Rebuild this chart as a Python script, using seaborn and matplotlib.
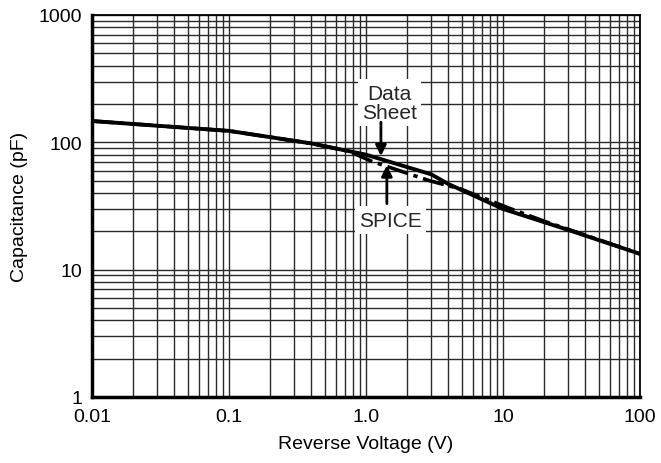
import numpy as np
import pandas as pd
import matplotlib
matplotlib.use("Agg")
import matplotlib.pyplot as plt
from matplotlib.ticker import LogLocator, FixedLocator, FixedFormatter, NullFormatter
import seaborn as sns

# ---- data ----
ds_voltage = [0.01, 0.1, 0.4, 1.0, 3.0, 4.0, 10, 30, 100]
ds_cap = [147, 123, 98, 80, 56, 47, 30, 20.5, 13.3]

spice_voltage = [0.01, 0.1, 0.4, 0.75, 1.1, 1.4, 2.9, 4.9, 11, 20, 35, 100]
spice_cap = [147, 123, 98, 85, 71, 65, 50, 43, 30.5, 24, 19.6, 13.3]

x_ticks = [0.01, 0.1, 1.0, 10, 100]
x_tick_labels = ["0.01", "0.1", "1.0", "10", "100"]
y_ticks = [1, 10, 100, 1000]
y_tick_labels = ["1", "10", "100", "1000"]

ds_df = pd.DataFrame({"V": ds_voltage, "C": ds_cap})
sp_df = pd.DataFrame({"V": spice_voltage, "C": spice_cap})

sns.set_theme(style="white")
plt.rcParams["font.family"] = ["Liberation Sans", "DejaVu Sans"]

fig = plt.figure(figsize=(6.61, 4.64), dpi=100)
ax = fig.add_axes([92 / 661, 66 / 464, (640 - 92) / 661, (398 - 16) / 464])

sns.lineplot(data=sp_df, x="V", y="C", ax=ax, color="black", lw=2.6,
             linestyle=(0, (6, 1.6, 1.2, 1.6)), zorder=3)
sns.lineplot(data=ds_df, x="V", y="C", ax=ax, color="black", lw=2.8, zorder=4)

ax.set_xscale("log")
ax.set_yscale("log")
ax.set_xlim(0.01, 100)
ax.set_ylim(1, 1000)

ax.xaxis.set_major_locator(FixedLocator(x_ticks))
ax.xaxis.set_major_formatter(FixedFormatter(x_tick_labels))
ax.yaxis.set_major_locator(FixedLocator(y_ticks))
ax.yaxis.set_major_formatter(FixedFormatter(y_tick_labels))
ax.xaxis.set_minor_locator(LogLocator(base=10, subs=np.arange(2, 10)))
ax.yaxis.set_minor_locator(LogLocator(base=10, subs=np.arange(2, 10)))
ax.xaxis.set_minor_formatter(NullFormatter())
ax.yaxis.set_minor_formatter(NullFormatter())

ax.grid(which="both", color="#2a2a2a", lw=1.0, zorder=1)
ax.set_axisbelow(True)
ax.tick_params(which="both", length=0, labelsize=14, colors="black")
ax.tick_params(axis="x", pad=8)
ax.tick_params(axis="y", pad=7)

for side in ["left", "bottom"]:
    ax.spines[side].set_linewidth(2.5)
    ax.spines[side].set_color("black")
for side in ["top", "right"]:
    ax.spines[side].set_linewidth(1.3)
    ax.spines[side].set_color("black")

ax.set_xlabel("Reverse Voltage (V)", fontsize=14, labelpad=7, color="black")
ax.set_ylabel("Capacitance (pF)", fontsize=14, labelpad=8, color="black")

box = dict(boxstyle="square,pad=0.2", facecolor="white", edgecolor="none")
ax.text(1.48, 205, "Data\nSheet", ha="center", va="center", fontsize=15,
        linespacing=1.0, bbox=box, zorder=6)
ax.text(1.50, 24.5, "SPICE", ha="center", va="center", fontsize=15,
        bbox=box, zorder=6)

arrow = dict(arrowstyle="-|>", color="black", lw=2.0, mutation_scale=16,
             shrinkA=0, shrinkB=0)
ax.annotate("", xy=(1.285, 78), xytext=(1.285, 144), arrowprops=arrow, zorder=7)
ax.annotate("", xy=(1.42, 66), xytext=(1.42, 33), arrowprops=arrow, zorder=7)

fig.savefig("out.png", dpi=100)
